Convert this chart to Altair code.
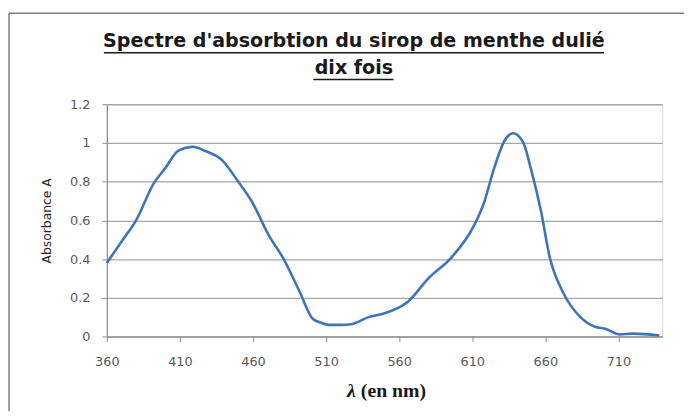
import altair as alt
import pandas as pd

wavelength = [360, 370, 380, 392, 400, 409, 419, 427, 439, 449, 459, 471, 481, 492,
              501, 507, 512, 520, 528, 539, 550, 557, 566, 580, 596, 611, 618, 625,
              632, 638, 645, 650, 657, 663, 672, 684, 694, 701, 711, 720, 738]
absorbance = [0.38, 0.49, 0.60, 0.79, 0.87, 0.96, 0.98, 0.96, 0.91, 0.81, 0.70, 0.52,
              0.40, 0.23, 0.09, 0.07, 0.06, 0.06, 0.065, 0.10, 0.12, 0.14, 0.18, 0.30,
              0.41, 0.57, 0.69, 0.87, 1.01, 1.05, 1.00, 0.87, 0.65, 0.41, 0.23, 0.10,
              0.05, 0.04, 0.01, 0.015, 0.005]
x_ticks = [360, 410, 460, 510, 560, 610, 660, 710]
y_ticks = [0, 0.2, 0.4, 0.6, 0.8, 1, 1.2]
title_lines = ["Spectre d'absorbtion du sirop de menthe dulié", "dix fois"]

df = pd.DataFrame({"lam": wavelength, "A": absorbance})

W, H = 562, 235
lab_col = "#595959"
lab_font = "DejaVu Sans"

line = alt.Chart(df).mark_line(
    color="#3F74B9", strokeWidth=2.6, interpolate="monotone"
).encode(
    x=alt.X("lam:Q", scale=alt.Scale(domain=[360, 740], nice=False, zero=False),
            axis=alt.Axis(values=x_ticks, title=None, grid=False, domain=True,
                          domainColor="#8c8c8c", domainWidth=1.2,
                          ticks=True, tickSize=5, tickColor="#8c8c8c",
                          labelFont=lab_font, labelFontSize=13,
                          labelColor=lab_col, labelPadding=14, labelFlush=False)),
    y=alt.Y("A:Q", scale=alt.Scale(domain=[0, 1.2], nice=False),
            axis=alt.Axis(values=y_ticks, title=None, grid=True,
                          gridColor="#a6a6a6", gridWidth=1.3,
                          domain=True, domainColor="#8c8c8c", domainWidth=1.2,
                          ticks=True, tickSize=5, tickColor="#8c8c8c",
                          labelFont=lab_font, labelFontSize=13,
                          labelColor=lab_col, labelPadding=12, labelFlush=False,
                          labelExpr="format(datum.value, '~g')")),
)

def txt(s, x, y, **kw):
    return alt.Chart(pd.DataFrame({"t": [s]})).mark_text(**kw).encode(
        text="t:N", x=alt.value(x), y=alt.value(y))

t1 = txt(title_lines[0], 250, -64, font="DejaVu Sans", fontSize=19.3,
         fontWeight="bold", color="#1a1a1a", align="center", baseline="middle")
t2 = txt(title_lines[1], 250, -37, font="DejaVu Sans", fontSize=19.3,
         fontWeight="bold", color="#1a1a1a", align="center", baseline="middle")

def rule(x1, x2, y1, y2, color, w):
    return alt.Chart(pd.DataFrame({"a": [0]})).mark_rule(
        color=color, strokeWidth=w).encode(
        x=alt.value(x1), x2=alt.value(x2), y=alt.value(y1), y2=alt.value(y2))

u1 = rule(-3, 503, -52, -52, "#1a1a1a", 1.5)
u2 = rule(209, 290, -25, -25, "#1a1a1a", 1.5)

frame_top = rule(-99, 700, -92, -92, "#7f7f7f", 1.5)
frame_left = rule(-99, -99, -92, 400, "#7f7f7f", 1.5)

ytitle = txt("Absorbance A", -60, 118, font="DejaVu Sans", fontSize=12.5,
             color="#262626", angle=270, align="center", baseline="middle")
xl = txt("λ", 252, 290, font="Liberation Serif", fontSize=20, fontWeight="bold",
         fontStyle="italic", color="#1a1a1a", align="right", baseline="middle")
xr = txt("(en nm)", 257, 290, font="Liberation Serif", fontSize=20, fontWeight="bold",
         color="#1a1a1a", align="left", baseline="middle")

chart = alt.layer(line, frame_top, frame_left, t1, t2, u1, u2, ytitle, xl, xr).properties(
    width=W, height=H,
    autosize=alt.AutoSizeParams(type="none"),
    padding={"left": 100, "top": 95, "right": 22, "bottom": 73},
).configure_view(stroke=None).configure(background="white")

chart.save("out.html", embed_options={"renderer": "svg", "actions": False})
